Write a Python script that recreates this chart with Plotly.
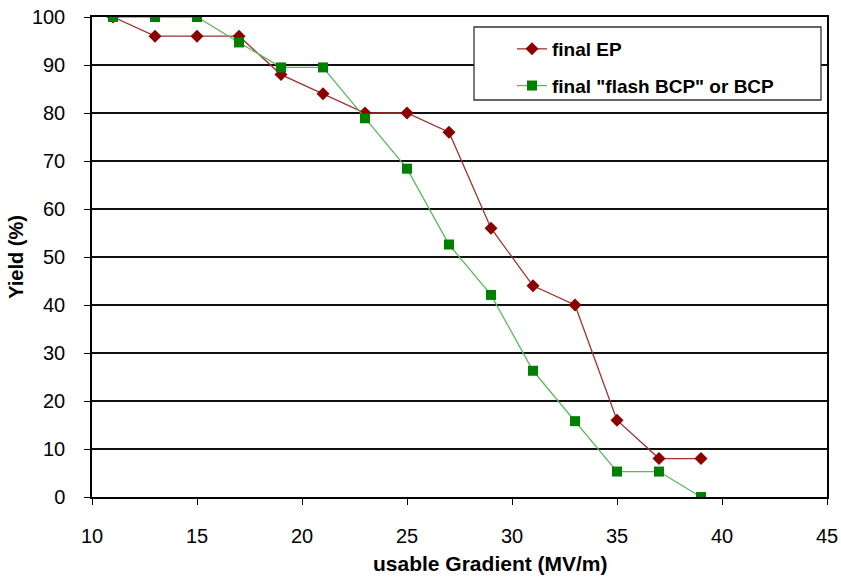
import plotly.graph_objects as go

gradient = [11, 13, 15, 17, 19, 21, 23, 25, 27, 29, 31, 33, 35, 37, 39]
yield_ep = [100, 96, 96, 96, 88, 84, 80, 80, 76, 56, 44, 40, 16, 8, 8]
yield_bcp = [100, 100, 100, 94.7, 89.5, 89.5, 78.9, 68.4, 52.6, 42.1, 26.3, 15.8, 5.3, 5.3, 0]

x_ticks = [10, 15, 20, 25, 30, 35, 40, 45]
y_ticks = [0, 10, 20, 30, 40, 50, 60, 70, 80, 90, 100]

fig = go.Figure()
fig.add_trace(go.Scatter(
    x=gradient, y=yield_ep, mode="lines+markers", name="final EP", legendgroup="a",
    line=dict(color="#A03030", width=1.3),
    marker=dict(symbol="diamond", size=10, color="#8B0000"),
))
fig.add_trace(go.Scatter(
    x=gradient, y=yield_bcp, mode="lines+markers", name='final "flash BCP" or BCP', legendgroup="b",
    line=dict(color="#5CB85C", width=1.3),
    marker=dict(symbol="square", size=10, color="#008000"),
))

# legend frame
fig.add_shape(type="rect", xref="paper", yref="paper",
              x0=(474 - 92) / 735, x1=(821 - 92) / 735,
              y0=(497 - 100) / 480, y1=(497 - 27) / 480,
              line=dict(color="#333333", width=1.3), fillcolor="white", layer="above")

# x-axis title (offset to the right as in the reference)
fig.add_annotation(text="<b>usable Gradient (MV/m)</b>", xref="paper", yref="paper",
                   x=(490 - 92) / 735, y=(497 - 563) / 480, xanchor="center", yanchor="middle",
                   showarrow=False, font=dict(size=21, color="black"))

fig.update_layout(
    width=841, height=578,
    margin=dict(l=92, r=14, t=17, b=81, autoexpand=False),
    paper_bgcolor="white", plot_bgcolor="white",
    font=dict(family="Liberation Sans, Arial", color="black"),
    showlegend=True,
    legend=dict(
        x=(512 - 92) / 735, y=(497 - 30) / 480, xanchor="left", yanchor="top",
        bgcolor="rgba(0,0,0,0)", borderwidth=0,
        font=dict(size=19, family="Liberation Sans, Arial", color="black", weight="bold"),
        traceorder="grouped", tracegroupgap=9,
    ),
    xaxis=dict(
        range=[10, 45], tickvals=x_ticks, ticks="outside", ticklen=6,
        tickcolor="black", showline=True, linecolor="black", linewidth=1.5,
        mirror=True, showgrid=False, zeroline=False, automargin=False,
        tickfont=dict(size=20), ticklabelstandoff=14,
    ),
    yaxis=dict(
        range=[0, 100], tickvals=y_ticks, ticks="outside", ticklen=6,
        tickcolor="black", showline=True, linecolor="black", linewidth=1.5,
        mirror=True, showgrid=True, gridcolor="#111111", gridwidth=1.5,
        zeroline=False, automargin=False, tickfont=dict(size=20), ticklabelstandoff=15,
        title=dict(text="Yield (%)", font=dict(size=20, weight="bold"), standoff=3),
    ),
)

fig.write_html("out.html", config={"displayModeBar": False},
               post_script="document.body.style.margin='0';")
